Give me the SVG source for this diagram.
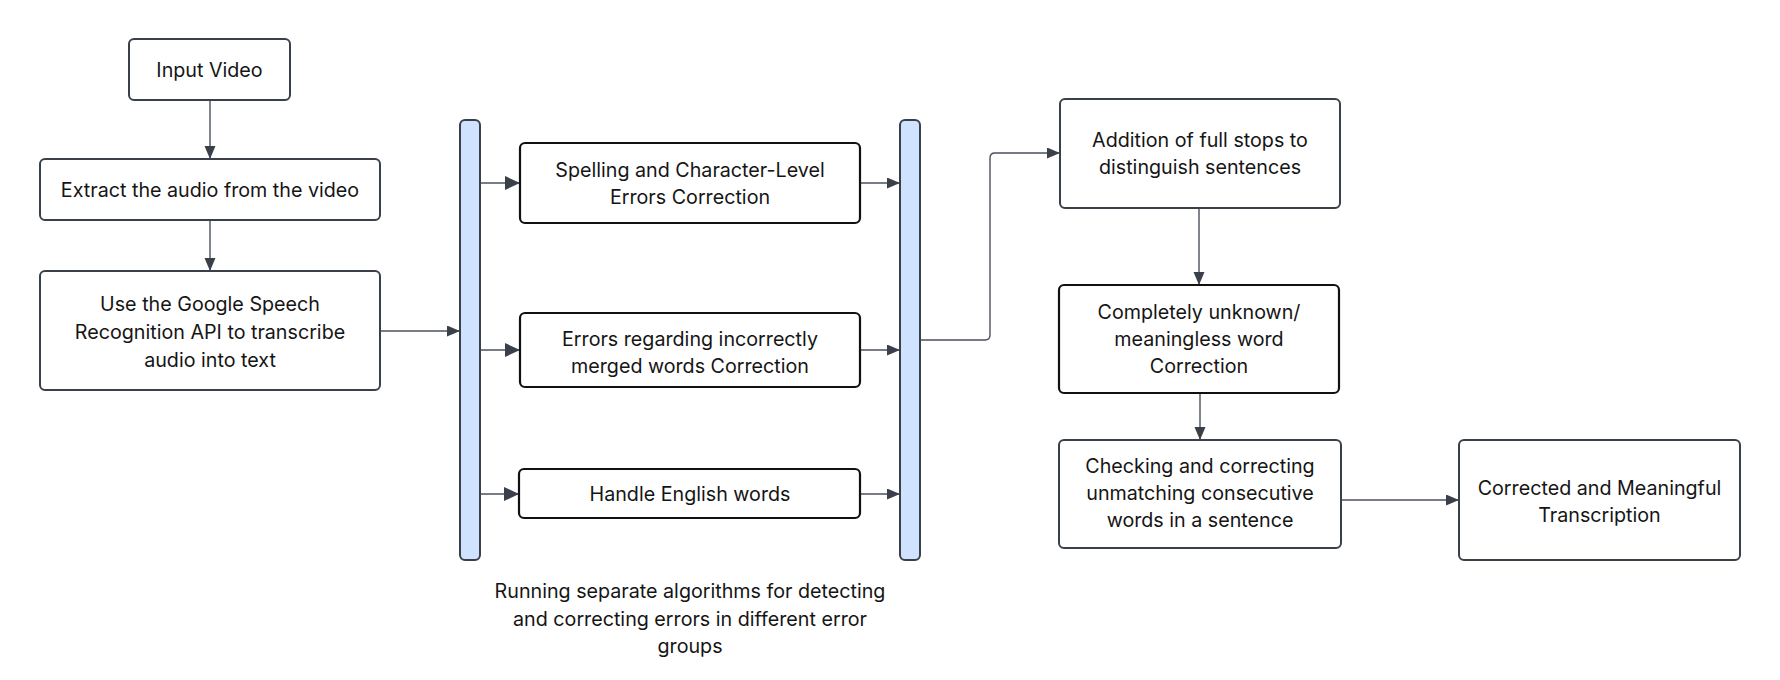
<svg xmlns="http://www.w3.org/2000/svg" width="1780" height="680" viewBox="0 0 1780 680">
<defs>
<style>
.n{fill:#ffffff;stroke:#3a404a;stroke-width:2}
.nb{fill:#ffffff;stroke:#111111;stroke-width:2.2}
.bar{fill:#cfe2ff;stroke:#3a404a;stroke-width:2}
.t{font-family:Inter,"Noto Sans","Liberation Sans",sans-serif;font-size:19.7px;fill:#151515;text-anchor:middle}
.c{fill:none;stroke:#4a505c;stroke-width:1.4}
</style>
<marker id="a" markerUnits="userSpaceOnUse" markerWidth="14" markerHeight="12" refX="13" refY="5.5" orient="auto">
<path d="M0,0 L13,5.5 L0,11 z" fill="#3a404a"/>
</marker>
<marker id="ab" markerUnits="userSpaceOnUse" markerWidth="16" markerHeight="14" refX="15" refY="7" orient="auto">
<path d="M0,0 L15,7 L0,14 z" fill="#3a404a"/>
</marker>
</defs>
<rect width="1780" height="680" fill="#ffffff"/>
<g id="connectors">
<path class="c" d="M210,100 V159" marker-end="url(#a)"/>
<path class="c" d="M210,220 V271" marker-end="url(#a)"/>
<path class="c" d="M380,331 H460" marker-end="url(#a)"/>
<path class="c" d="M481,183 H520" marker-end="url(#ab)"/>
<path class="c" d="M481,350 H520" marker-end="url(#ab)"/>
<path class="c" d="M481,494 H519" marker-end="url(#ab)"/>
<path class="c" d="M860,183 H900" marker-end="url(#a)"/>
<path class="c" d="M860,350 H900" marker-end="url(#a)"/>
<path class="c" d="M860,494 H900" marker-end="url(#a)"/>
<path class="c" d="M920,340 H985 Q990,340 990,335 V158 Q990,153 995,153 H1060" marker-end="url(#a)"/>
<path class="c" d="M1199,208 V285" marker-end="url(#a)"/>
<path class="c" d="M1200,393 V440" marker-end="url(#a)"/>
<path class="c" d="M1341,500 H1459" marker-end="url(#a)"/>
</g>
<g id="input">
<rect class="n" x="129" y="39" width="161" height="61" rx="5"/>
<text class="t" x="209.5" y="77">Input Video</text>
</g>
<g id="extract">
<rect class="n" x="40" y="159" width="340" height="61" rx="5"/>
<text class="t" x="210" y="197">Extract the audio from the video</text>
</g>
<g id="google">
<rect class="n" x="40" y="271" width="340" height="119" rx="5"/>
<text class="t" x="210" y="311">Use the Google Speech</text>
<text class="t" x="210" y="339">Recognition API to transcribe</text>
<text class="t" x="210" y="367">audio into text</text>
</g>
<g id="fork">
<rect class="bar" x="460" y="120" width="20" height="440" rx="5"/>
</g>
<g id="spelling">
<rect class="nb" x="520" y="143" width="340" height="80" rx="5"/>
<text class="t" x="690" y="177">Spelling and Character-Level</text>
<text class="t" x="690" y="204">Errors Correction</text>
</g>
<g id="merged">
<rect class="nb" x="520" y="313" width="340" height="74" rx="5"/>
<text class="t" x="690" y="346">Errors regarding incorrectly</text>
<text class="t" x="690" y="373">merged words Correction</text>
</g>
<g id="english">
<rect class="nb" x="519" y="469" width="341" height="49" rx="5"/>
<text class="t" x="690" y="501">Handle English words</text>
</g>
<g id="join">
<rect class="bar" x="900" y="120" width="20" height="440" rx="5"/>
</g>
<g id="caption">
<text class="t" x="690" y="598">Running separate algorithms for detecting</text>
<text class="t" x="690" y="626">and correcting errors in different error</text>
<text class="t" x="690" y="653">groups</text>
</g>
<g id="addition">
<rect class="n" x="1060" y="99" width="280" height="109" rx="5"/>
<text class="t" x="1200" y="147">Addition of full stops to</text>
<text class="t" x="1200" y="174">distinguish sentences</text>
</g>
<g id="unknown">
<rect class="nb" x="1059" y="285" width="280" height="108" rx="5"/>
<text class="t" x="1199" y="319">Completely unknown/</text>
<text class="t" x="1199" y="346">meaningless word</text>
<text class="t" x="1199" y="373">Correction</text>
</g>
<g id="checking">
<rect class="n" x="1059" y="440" width="282" height="108" rx="5"/>
<text class="t" x="1200" y="473">Checking and correcting</text>
<text class="t" x="1200" y="500">unmatching consecutive</text>
<text class="t" x="1200" y="527">words in a sentence</text>
</g>
<g id="final">
<rect class="n" x="1459" y="440" width="281" height="120" rx="5"/>
<text class="t" x="1599.5" y="495">Corrected and Meaningful</text>
<text class="t" x="1599.5" y="522">Transcription</text>
</g>
</svg>
